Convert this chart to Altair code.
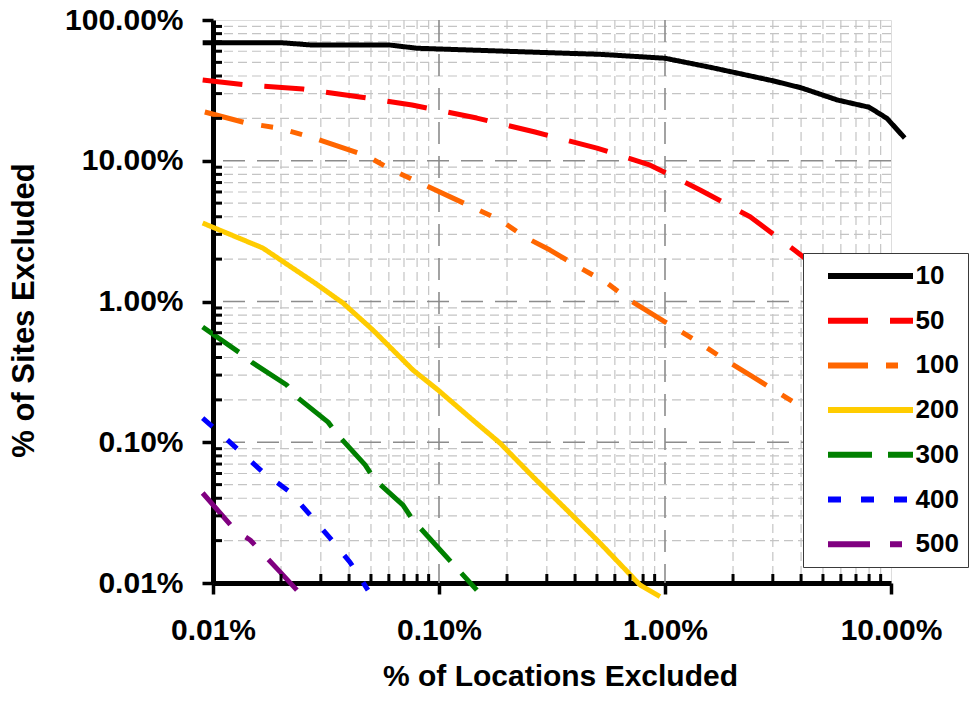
import altair as alt
import pandas as pd

# Series (site threshold) names, colours and dash patterns
series = ["10", "50", "100", "200", "300", "400", "500"]
colors = ["#000000", "#FF0000", "#FF6600", "#FFCC00", "#008000", "#0000FF", "#800080"]
dashes = [[1, 0], [40, 22], [40, 18, 12, 18, 12, 18], [1, 0], [44, 16], [13, 20], [42, 20, 12, 20]]

# % of locations excluded (x) and % of sites excluded (y) for each series
x_10 = [0.009, 0.02, 0.027, 0.06, 0.08, 0.37, 0.52, 1.0, 1.6, 3.0, 4.0, 5.8, 8.0, 9.6, 11.5]
y_10 = [69, 69, 66.5, 66.5, 63, 58, 57, 53.5, 46, 37, 33, 27, 24, 20, 14.5]

x_50 = [0.009, 0.0141, 0.025, 0.0447, 0.076, 0.147, 0.266, 0.50, 0.86, 1.43, 2.38, 3.76, 6.0, 10.0]
y_50 = [37.5, 34.5, 32.3, 28.4, 24.9, 20.1, 16.0, 12.3, 9.3, 6.2, 4.0, 2.3, 1.3, 0.7]

x_100 = [0.0092, 0.0141, 0.0194, 0.0269, 0.048, 0.062, 0.134, 0.186, 0.240, 0.310,
         0.400, 0.554, 0.70, 1.40, 1.79, 2.45, 3.76, 6.0, 10.0]
y_100 = [22.2, 18.5, 17.1, 14.8, 10.8, 8.6, 4.85, 3.8, 2.87, 2.32,
         1.82, 1.35, 1.02, 0.515, 0.397, 0.291, 0.19, 0.12, 0.07]

x_200 = [0.009, 0.0166, 0.0283, 0.0376, 0.051, 0.0767, 0.099, 0.141, 0.186, 0.261,
         0.368, 0.516, 0.775, 0.95]
y_200 = [3.61, 2.40, 1.35, 0.975, 0.627, 0.326, 0.235, 0.144, 0.0988, 0.0567,
         0.033, 0.0192, 0.0097, 0.0080]

x_300 = [0.009, 0.0132, 0.0150, 0.0212, 0.0238, 0.0323, 0.0357, 0.0471, 0.0521, 0.0693, 0.0767, 0.147]
y_300 = [0.659, 0.43, 0.366, 0.255, 0.206, 0.139, 0.1127, 0.069, 0.054, 0.0358, 0.028, 0.0089]

x_400 = [0.009, 0.0106, 0.0134, 0.0166, 0.0219, 0.0274, 0.0329, 0.0403, 0.0485]
y_400 = [0.1486, 0.118, 0.0839, 0.0615, 0.0443, 0.0294, 0.0209, 0.0141, 0.0089]

x_500 = [0.009, 0.0125, 0.0146, 0.0198, 0.0235]
y_500 = [0.0436, 0.0238, 0.0202, 0.0120, 0.0089]

# Axis tick positions
x_major = [0.01, 0.1, 1, 10]
y_major = [0.01, 0.1, 1, 10, 100]
x_minor = [m * d for d in (0.01, 0.1, 1) for m in range(2, 10)]
y_minor = [m * d for d in (0.01, 0.1, 1, 10) for m in range(2, 10)]

W, H = 678, 563
FONT = "Liberation Sans"

xs = [x_10, x_50, x_100, x_200, x_300, x_400, x_500]
ys = [y_10, y_50, y_100, y_200, y_300, y_400, y_500]
rows = []
for name, xv, yv in zip(series, xs, ys):
    for i, (a, b) in enumerate(zip(xv, yv)):
        rows.append({"series": name, "loc": a, "sites": b, "i": i})
lines_df = pd.DataFrame(rows)

x_scale = alt.Scale(type="log", domain=[0.01, 10])
y_scale = alt.Scale(type="log", domain=[0.01, 100])

pct = "format(datum.value, '.2f') + '%'"

x_axis = alt.Axis(
    values=x_major, labelExpr=pct, title="% of Locations Excluded",
    grid=False, domainColor="black", domainWidth=5, tickColor="black",
    tickWidth=3.5, tickSize=11, labelPadding=21, labelFlush=False,
    labelFont=FONT, labelFontSize=30, labelFontWeight="bold", labelColor="black",
    titleFont=FONT, titleFontSize=30, titleFontWeight="bold", titleColor="black",
    titlePadding=16, titleX=347,
)
y_axis = alt.Axis(
    values=y_major, labelExpr=pct, title="% of Sites Excluded",
    grid=False, domainColor="black", domainWidth=5, tickColor="black",
    tickWidth=3.5, tickSize=11, labelPadding=19, labelFlush=False,
    labelFont=FONT, labelFontSize=30, labelFontWeight="bold", labelColor="black",
    titleFont=FONT, titleFontSize=31, titleFontWeight="bold", titleColor="black",
    titlePadding=24, titleY=290,
)

# Grid lines
minor_vgrid = alt.Chart(pd.DataFrame({"v": x_minor})).mark_rule(
    color="#c4c4c4", strokeWidth=1.2, strokeDash=[9, 5]
).encode(x=alt.X("v:Q", scale=x_scale, axis=x_axis))
minor_hgrid = alt.Chart(pd.DataFrame({"v": y_minor})).mark_rule(
    color="#c4c4c4", strokeWidth=1.2, strokeDash=[9, 5]
).encode(y=alt.Y("v:Q", scale=y_scale, axis=y_axis))
major_vgrid = alt.Chart(pd.DataFrame({"v": x_major[1:-1]})).mark_rule(
    color="#8c8c8c", strokeWidth=1.6, strokeDash=[22, 12]
).encode(x=alt.X("v:Q", scale=x_scale))
major_hgrid = alt.Chart(pd.DataFrame({"v": y_major[1:-1]})).mark_rule(
    color="#8c8c8c", strokeWidth=1.6, strokeDash=[22, 12]
).encode(y=alt.Y("v:Q", scale=y_scale))

# Minor ticks pointing into the plot
minor_xticks = alt.Chart(pd.DataFrame({"v": x_minor})).mark_rule(
    color="black", strokeWidth=3
).encode(x=alt.X("v:Q", scale=x_scale), y=alt.value(H), y2=alt.value(H - 9))
minor_yticks = alt.Chart(pd.DataFrame({"v": y_minor})).mark_rule(
    color="black", strokeWidth=3
).encode(y=alt.Y("v:Q", scale=y_scale), x=alt.value(0), x2=alt.value(9))

# Legend: a flat line symbol (path scaled by sqrt(size)/2) keeps rows compact
legend = alt.Legend(
    title=None, orient="none", legendX=590, legendY=233,
    symbolType="M-4,0H4", symbolSize=21.25 * 21.25, symbolStrokeWidth=6,
    symbolOffset=44.5, labelOffset=31, padding=9, rowPadding=17.7,
    labelFont=FONT, labelFontSize=26, labelFontWeight="bold", labelColor="black",
    fillColor="white", strokeColor="#3a3a3a",
)

lines = alt.Chart(lines_df).mark_line(strokeWidth=5, strokeJoin="round").encode(
    x=alt.X("loc:Q", scale=x_scale),
    y=alt.Y("sites:Q", scale=y_scale),
    color=alt.Color("series:N", scale=alt.Scale(domain=series, range=colors), legend=legend),
    strokeDash=alt.StrokeDash("series:N", scale=alt.Scale(domain=series, range=dashes), legend=legend),
    order="i:Q",
)

chart = alt.layer(
    minor_vgrid, minor_hgrid, major_vgrid, major_hgrid, lines, minor_xticks, minor_yticks
).properties(
    width=W, height=H,
    autosize=alt.AutoSizeParams(type="none"),
    padding={"left": 213, "top": 20, "right": 85, "bottom": 122},
).configure_view(
    stroke="black", strokeWidth=4
).configure_legend(
    strokeWidth=1.5
).configure(background="white")

chart.save("out.html", embed_options={"renderer": "svg", "actions": False})
